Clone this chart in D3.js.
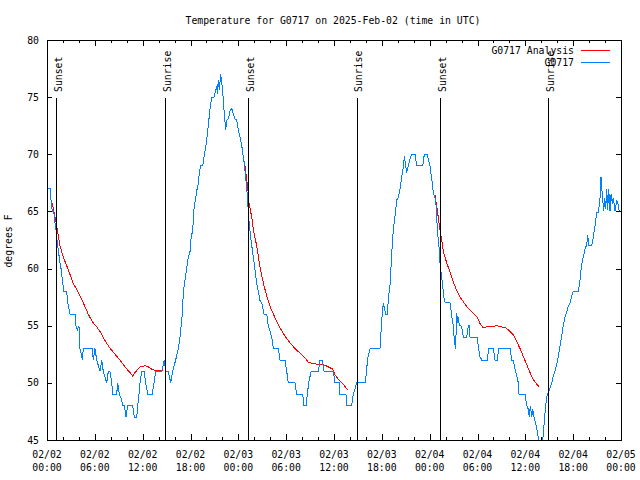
<!DOCTYPE html>
<html><head><meta charset="utf-8">
<script src="https://cdn.jsdelivr.net/npm/d3@7"></script>
<style>
html,body{margin:0;padding:0;background:#fff;}
svg text{font-family:"DejaVu Sans Mono",monospace;font-size:9.8px;fill:#000;}
</style></head>
<body><svg id="c" width="640" height="480"></svg>
<script>
// ---- data (hours since 2025-02-02 00:00 UTC) ----
const titleText = "Temperature for G0717 on 2025-Feb-02 (time in UTC)";
const yLabel = "degrees F";
const seriesNames = ["G0717 Analysis", "G0717"];
const yTicks = [45, 50, 55, 60, 65, 70, 75, 80];
const xTickHours = [0, 6, 12, 18, 24, 30, 36, 42, 48, 54, 60, 66, 72];
const sunEventNames = ["Sunset", "Sunrise", "Sunset", "Sunrise", "Sunset", "Sunrise"];
const sunEventHours = [1.17, 14.85, 25.25, 38.83, 49.33, 62.88];

const obsHours = [0.00,0.38,0.50,0.66,0.85,1.00,1.13,1.25,1.42,1.63,1.76,1.92,2.13,2.47,2.60,2.89,3.51,3.64,3.80,4.01,4.14,4.35,4.43,4.55,5.68,5.81,6.02,6.23,6.44,6.65,6.86,7.06,7.28,7.49,7.69,7.90,8.12,8.24,8.74,8.87,9.07,9.37,9.50,9.70,9.91,10.12,10.75,10.95,11.25,11.38,11.54,11.67,11.88,12.17,12.38,12.63,13.21,13.42,13.64,14.39,14.59,14.71,14.89,15.22,15.52,15.64,15.77,16.14,16.47,16.68,16.90,17.02,17.10,17.31,17.72,17.94,18.06,18.28,18.44,18.78,18.98,19.10,19.28,19.53,19.82,20.03,20.23,20.45,20.66,20.95,21.29,21.36,21.49,21.61,21.79,21.91,22.04,22.12,22.24,22.42,22.54,22.74,22.96,23.17,23.58,23.80,24.00,24.21,24.42,24.62,24.75,24.87,25.05,25.18,25.30,25.46,25.59,25.88,26.09,26.30,26.50,26.72,26.93,27.22,27.56,27.76,28.19,28.39,29.01,29.23,29.85,30.07,30.27,31.11,31.32,32.07,32.24,32.49,32.65,32.83,33.12,34.03,34.25,34.53,34.75,35.91,36.13,36.67,36.75,37.50,37.59,38.22,38.42,38.64,38.85,39.89,40.10,40.18,40.52,41.77,41.86,41.98,42.06,42.19,42.49,42.69,42.81,43.03,43.24,43.44,43.65,43.87,44.07,44.28,44.49,44.69,44.82,45.12,45.32,45.53,45.74,46.16,46.37,47.13,47.33,47.70,47.83,48.04,48.17,48.33,48.46,48.67,48.80,48.88,48.96,49.08,49.21,49.30,49.42,49.59,49.71,49.84,50.01,50.55,50.68,50.84,50.97,51.05,51.14,51.22,51.30,51.39,51.52,51.59,51.72,51.93,52.09,52.22,52.65,52.85,52.97,53.06,53.98,54.10,54.31,54.53,55.23,55.41,55.98,56.20,56.48,56.66,58.08,58.29,58.49,58.62,58.79,59.12,59.21,59.96,60.17,60.38,60.50,60.63,60.80,60.93,61.09,61.21,61.43,61.63,61.84,62.03,62.26,62.38,62.56,62.68,62.81,62.97,63.18,63.31,63.51,63.72,63.94,64.14,64.35,64.56,64.76,64.98,65.19,65.39,65.60,65.82,66.02,66.65,66.86,67.07,67.27,67.49,67.70,67.82,67.99,68.33,68.49,68.65,68.78,68.95,69.16,69.37,69.49,69.58,69.71,69.83,69.96,70.08,70.21,70.33,70.46,70.62,70.75,70.91,71.04,71.25,71.46,71.62,71.79];
const obsTemps = [67,67,66,65,65,64,63.4,62.5,61.6,60.5,60,59,58,58,57,56,56,55,54.6,55,53,52.3,52,53,53,52,53,52,51.5,51,52,51,50.5,50,51,51,50,49,49,50,49,48.5,48,48,47,48,48,47,47,48,49,50,51,51,50,49,49,50,51,51,51.6,52,51,51,50,50.6,51,52,53,54,55.5,56.5,58,59,61,61.5,62.6,63.4,65.2,66.8,67.4,68.4,69,69,70.3,71.2,72.5,74,75,75,76,75.3,76.5,75.6,77,76.3,75.6,74.6,73.6,72.1,73,73.1,73.8,74,73.1,73,72.1,71.5,70.8,69.8,69.2,68.3,67.1,65.7,64.5,63.3,62.5,61,59.9,58.7,58,57.2,57,56,56,55,54,53,53,52,52,51,50,50,49,49,48,48,49,50,51,51,52,52,51,51,50,50,49,49,48,48,49,49.5,50,50,51,52,53,53,54,55.5,56,57,56,56,57.3,58.6,61.3,63.4,64.6,66,66.2,67,68,68.9,69.8,68.4,69,69.6,70,70,69,69,70,70,69.5,69,68.3,67.5,66.6,66.2,65.5,64.6,63.4,62.5,61.6,60.5,59.7,58.8,58,57.2,57,57,56.4,55.5,55,54.1,53.6,53,54.1,56.1,55.2,55.8,55,55,54.6,54,54,55,55,54,54,53.2,52.3,52,52,53,53,52,52,53,53,52,52,51.5,51,50,49,49,48,47.7,47,48,47,47.7,47,46.7,46,45.2,44.6,44.3,45.5,46.7,48,48.7,49.1,49.3,49.7,50,50.6,51,51.6,52.3,53.2,54.1,55,55.8,56.2,56.7,57,57.6,58,58,59,60.4,61,61.7,62.1,62.9,62,62,62.6,63.4,63.9,64.9,64.9,66.2,68,67.1,66,65,66.2,65.2,67,65.1,67,65,66.5,65.7,66.2,65,66,65.7,65];

// analysis: null separates segments
const anaHours = [0.71,0.79,1.00,1.17,1.29,1.63,2.04,2.67,3.30,3.93,4.55,5.18,5.73,6.23,6.74,7.28,7.82,8.53,9.15,9.78,10.41,10.75,11.04,11.67,12.29,12.71,13.13,13.55,14.55,null,
  24.84,25.18,25.34,25.68,25.88,26.30,26.63,26.93,27.22,27.56,27.97,28.60,29.23,29.85,30.48,31.11,31.74,32.36,32.78,33.40,34.03,34.66,35.29,35.84,36.13,36.54,36.97,37.38,37.67,null,
  48.67,48.96,49.17,49.30,49.51,49.71,50.14,50.55,50.97,51.39,51.81,52.22,52.85,53.48,53.91,54.31,54.73,55.16,55.78,56.41,57.04,57.58,58.08,58.49,58.92,59.34,59.75,60.17,60.59,61.00,61.43,61.76];
const anaTemps = [65.7,65.2,64.5,63.9,63.4,62.0,61.0,59.9,58.7,57.9,57.0,56.0,55.3,54.9,54.4,53.7,53.1,52.5,52.0,51.4,50.9,50.6,50.9,51.4,51.5,51.4,51.2,51.1,51.1,null,
  69.0,67.1,65.7,64.5,63.4,62.0,60.5,59.4,58.5,57.6,56.7,55.7,54.8,54.1,53.5,53.0,52.6,52.2,51.8,51.7,51.6,51.6,51.4,51.2,50.7,50.3,50.0,49.7,49.4,null,
  66.4,65.1,64.0,63.4,62.5,61.5,60.5,59.7,58.8,58.1,57.5,57.1,56.5,56.1,55.8,55.2,54.8,54.9,54.9,55.0,54.9,54.8,54.5,54.2,53.6,53.0,52.3,51.6,50.9,50.3,49.9,49.6];

// ---- layout ----
const M = {left: 47, right: 621, top: 40, bottom: 440};
const t0 = Date.UTC(2025, 1, 2);
const toDate = h => new Date(t0 + h * 3600e3);
const svg = d3.select("#c");

const x = d3.scaleTime().domain([toDate(0), toDate(72)]).range([M.left, M.right]);
const y = d3.scaleLinear().domain([45, 80]).range([M.bottom, M.top]);

svg.append("defs").append("clipPath").attr("id", "clip")
  .append("rect").attr("x", M.left).attr("y", M.top)
  .attr("width", M.right - M.left).attr("height", M.bottom - M.top);

// axes
const fmtD = d3.utcFormat("%m/%d"), fmtT = d3.utcFormat("%H:%M");
const majorX = xTickHours.map(toDate);
const minorX = d3.range(0, 73, 2).filter(h => h % 6 !== 0).map(toDate);

function styleAxis(g){ g.select(".domain").remove(); g.selectAll("line").attr("stroke","#000").attr("shape-rendering","crispEdges"); }

svg.append("g").attr("transform", `translate(0,${M.bottom})`)
  .call(d3.axisBottom(x).tickValues(majorX).tickSize(-6).tickFormat(""))
  .call(styleAxis);
svg.append("g").attr("transform", `translate(0,${M.bottom})`)
  .call(d3.axisBottom(x).tickValues(minorX).tickSize(-3).tickFormat(""))
  .call(styleAxis);
svg.append("g").attr("transform", `translate(0,${M.top})`)
  .call(d3.axisTop(x).tickValues(majorX).tickSize(-6).tickFormat(""))
  .call(styleAxis);
svg.append("g").attr("transform", `translate(0,${M.top})`)
  .call(d3.axisTop(x).tickValues(minorX).tickSize(-3).tickFormat(""))
  .call(styleAxis);
svg.append("g").attr("transform", `translate(${M.left},0)`)
  .call(d3.axisLeft(y).tickValues(yTicks).tickSize(-5).tickFormat(""))
  .call(styleAxis);
svg.append("g").attr("transform", `translate(${M.right},0)`)
  .call(d3.axisRight(y).tickValues(yTicks).tickSize(-5).tickFormat(""))
  .call(styleAxis);

// tick labels
const xl = svg.append("g").selectAll("text").data(majorX).join("text")
  .attr("text-anchor", "middle");
xl.append("tspan").attr("x", d => x(d)).attr("y", 457.5).text(d => fmtD(d));
xl.append("tspan").attr("x", d => x(d)).attr("y", 470.5).text(d => fmtT(d));

svg.append("g").selectAll("text").data(yTicks).join("text")
  .attr("x", 39).attr("y", d => y(d) + 3.5).attr("text-anchor", "end").text(d => d);

// series
const line = d3.line().defined((d) => d[0] !== null && d[1] !== null)
  .x(d => x(toDate(d[0]))).y(d => y(d[1]));
const plot = svg.append("g").attr("clip-path", "url(#clip)");
plot.append("path").datum(anaHours.map((h, i) => [h, anaTemps[i]]))
  .attr("d", line).attr("fill", "none").attr("stroke", "#ff0000").attr("stroke-width", 1)
  .attr("shape-rendering", "crispEdges");
plot.append("path").datum(obsHours.map((h, i) => [h, obsTemps[i]]))
  .attr("d", line).attr("fill", "none").attr("stroke", "#0080ff").attr("stroke-width", 1)
  .attr("shape-rendering", "crispEdges");

// sunrise/sunset markers
const ev = svg.append("g").selectAll("g").data(sunEventHours).join("g");
ev.append("line")
  .attr("x1", d => Math.round(x(toDate(d))) + 0.5).attr("x2", d => Math.round(x(toDate(d))) + 0.5)
  .attr("y1", 98).attr("y2", M.bottom).attr("stroke", "#000").attr("stroke-width", 1);
ev.append("text")
  .attr("transform", d => `translate(${x(toDate(d)) + 5.5},92) rotate(-90)`)
  .attr("text-anchor", "start").text((d, i) => sunEventNames[i]);

// frame
svg.append("rect").attr("x", M.left + 0.5).attr("y", M.top + 0.5)
  .attr("width", M.right - M.left).attr("height", M.bottom - M.top)
  .attr("fill", "none").attr("stroke", "#000").attr("stroke-width", 1);

// legend
const legColors = ["#ff0000", "#0080ff"];
const lg = svg.append("g").selectAll("g").data(seriesNames).join("g")
  .attr("transform", (d, i) => `translate(0,${50.5 + i * 12})`);
lg.append("text").attr("x", 574).attr("y", 3.5).attr("text-anchor", "end").text(d => d);
lg.append("line").attr("x1", 581).attr("x2", 610).attr("y1", 0).attr("y2", 0)
  .attr("stroke", (d, i) => legColors[i]).attr("stroke-width", 1);

// title & y label
svg.append("text").attr("x", 333).attr("y", 23.5).attr("text-anchor", "middle").text(titleText);
svg.append("text").attr("transform", "translate(12,241) rotate(-90)")
  .attr("text-anchor", "middle").text(yLabel);
</script></body></html>
